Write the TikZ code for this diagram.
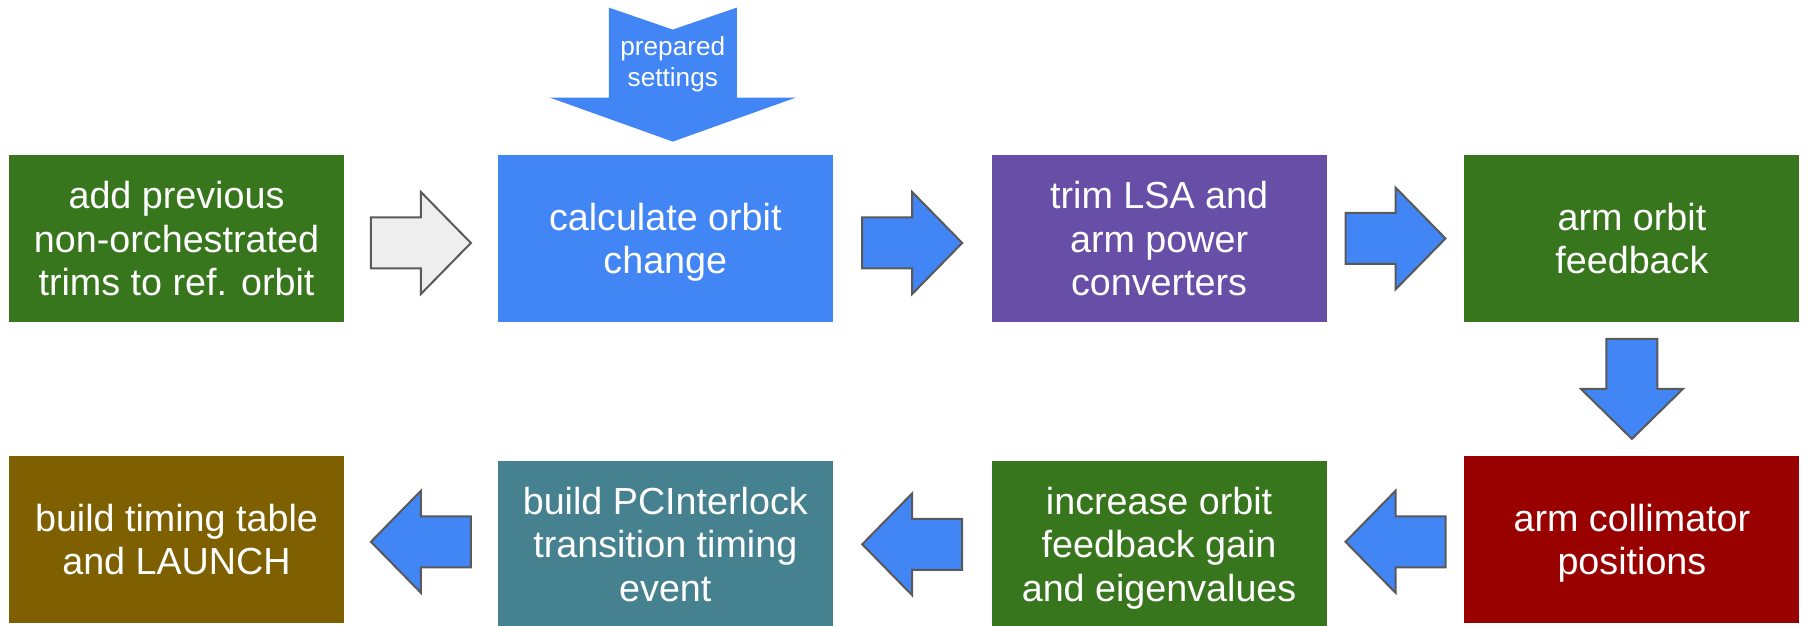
\documentclass[tikz,border=0pt]{standalone}
\usepackage{fontspec}
\setmainfont{Liberation Sans}
\usepackage{tikz}
\usetikzlibrary{positioning,calc}

\definecolor{gdarkgreen}{HTML}{38761D}
\definecolor{gblue}{HTML}{4285F4}
\definecolor{gpurple}{HTML}{674EA7}
\definecolor{gdarkred}{HTML}{990000}
\definecolor{gteal}{HTML}{45818E}
\definecolor{golive}{HTML}{7F6000}
\definecolor{glightgray}{HTML}{EEEEEE}
\definecolor{goutline}{HTML}{595959}

\tikzset{
  stepbox/.style={rectangle, fill=#1, draw=none, text=white, inner sep=0pt,
    minimum width=167.5pt, minimum height=83.5pt, align=center, text depth=0pt,
    font=\fontsize{18.85}{21.75}\selectfont},
  blockarrow/.style={draw=goutline, line width=1pt, line join=miter, fill=gblue},
}

% fat arrow pointing along #3 degrees, centred at #2
\newcommand{\blockarrow}[3][]{%
  \draw[blockarrow,#1,shift={#2},rotate=#3]
    (-25,-12.75) -- (0,-12.75) -- (0,-25.5) -- (25,0) -- (0,25.5)
    -- (0,12.75) -- (-25,12.75) -- cycle;}

\begin{document}
\begin{tikzpicture}[x=1pt,y=1pt]
\useasboundingbox (0,0) rectangle (910,313);

% upper row
\node[stepbox=gdarkgreen] (prev) at (88.25,193.75) {add previous\\non-orchestrated\\trims to ref. orbit};
\node[stepbox=gblue, right=76.5pt of prev] (calc) {calculate orbit\\change};
\node[stepbox=gpurple, right=79pt of calc] (trim) {trim LSA and\\arm power\\converters};
\node[stepbox=gdarkgreen, right=68.5pt of trim] (feedback) {arm orbit\\feedback};

% lower row, right to left
\node[stepbox=gdarkred, below=66.5pt of feedback] (collimator) {arm collimator\\positions};
\node[stepbox=gdarkgreen, left=68.5pt of collimator, yshift=-2.5pt] (gain) {increase orbit\\feedback gain\\and eigenvalues};
\node[stepbox=gteal, left=79pt of gain] (interlock) {build PCInterlock\\transition timing\\event};
\node[stepbox=golive, left=76.5pt of interlock, yshift=2.5pt] (launch) {build timing table\\and LAUNCH};

% input arrow
\fill[gblue, shift={($(calc.north)+(3.75,6.5)$)}]
  (0,0) -- (-61.5,22) -- (-32,22) -- (-32,67) -- (0,56) -- (32,67)
  -- (32,22) -- (61.5,22) -- cycle;
\node[text=white, align=center, inner sep=0pt, font=\fontsize{13.1}{15.5}\selectfont]
  (prep) at ($(calc.north)+(3.75,45)$) {prepared\\settings};

\blockarrow[fill=glightgray]{($(prev.east)!.5!(calc.west)+(0,-2.25)$)}{0}
\blockarrow{($(calc.east)!.5!(trim.west)+(0,-2.25)$)}{0}
\blockarrow{($(trim.east)!.5!(feedback.west)$)}{0}
\blockarrow{($(feedback.south)!.5!(collimator.north)$)}{-90}
\blockarrow{($(collimator.west)!.5!(gain.east)$)}{180}
\blockarrow{($(gain.west)!.5!(interlock.east)$)}{180}
\blockarrow{($(interlock.west)!.5!(launch.east)$)}{180}
\end{tikzpicture}
\end{document}
